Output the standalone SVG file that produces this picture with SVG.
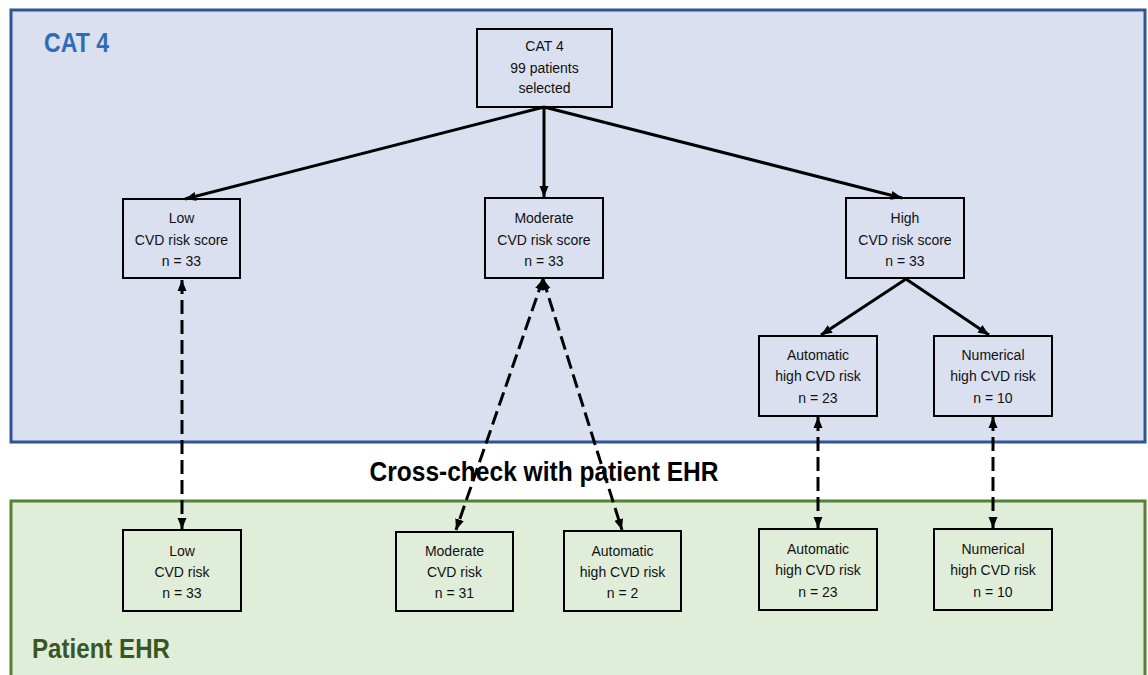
<svg xmlns="http://www.w3.org/2000/svg" width="1148" height="675" viewBox="0 0 1148 675">
<defs>
<marker id="ah" markerUnits="userSpaceOnUse" markerWidth="12" markerHeight="12" viewBox="0 0 12 12" refX="11" refY="6" orient="auto-start-reverse">
<path d="M0,1.5 L11,6 L0,10.5 Z" fill="#000"/>
</marker>
<style>
.box{fill:none;stroke:#000;stroke-width:2}
.t{font-family:"Liberation Sans",Arial,sans-serif;font-size:14px;fill:#111;text-anchor:middle}
.solid{stroke:#000;stroke-width:3;fill:none}
.dash{stroke:#000;stroke-width:3;fill:none;stroke-dasharray:14 6}
.title{font-family:"Liberation Sans",Arial,sans-serif;font-weight:bold;font-size:27px}
</style>
</defs>
<rect width="1148" height="675" fill="#fff"/>
<g id="panel-cat4">
<rect x="11" y="10" width="1134" height="432" fill="#DAE0F0" stroke="#2F5597" stroke-width="3"/>
<text class="title" x="44" y="52" fill="#2E6DB4" textLength="65" lengthAdjust="spacingAndGlyphs">CAT 4</text>
</g>
<g id="panel-ehr">
<rect x="11" y="501" width="1134" height="190" fill="#E0EDD8" stroke="#548235" stroke-width="3"/>
<text class="title" x="32" y="658" fill="#385723" textLength="138" lengthAdjust="spacingAndGlyphs">Patient EHR</text>
</g>
<g id="label-crosscheck">
<text class="title" x="544" y="481" fill="#000" text-anchor="middle" textLength="349" lengthAdjust="spacingAndGlyphs">Cross-check with patient EHR</text>
</g>
<g id="connectors">
<line class="solid" x1="544" y1="107" x2="185" y2="199" marker-end="url(#ah)"/>
<line class="solid" x1="544" y1="107" x2="544" y2="197" marker-end="url(#ah)"/>
<line class="solid" x1="544" y1="107" x2="902" y2="198" marker-end="url(#ah)"/>
<line class="solid" x1="906" y1="279" x2="821" y2="335" marker-end="url(#ah)"/>
<line class="solid" x1="906" y1="279" x2="989" y2="335" marker-end="url(#ah)"/>
<line class="dash" x1="182" y1="280" x2="182" y2="529" marker-start="url(#ah)" marker-end="url(#ah)"/>
<line class="dash" x1="543" y1="279" x2="456" y2="530" marker-start="url(#ah)" marker-end="url(#ah)"/>
<line class="dash" x1="543" y1="279" x2="622" y2="530" marker-start="url(#ah)" marker-end="url(#ah)"/>
<line class="dash" x1="818" y1="417" x2="818" y2="528" marker-start="url(#ah)" marker-end="url(#ah)"/>
<line class="dash" x1="993" y1="417" x2="993" y2="528" marker-start="url(#ah)" marker-end="url(#ah)"/>
</g>
<g id="n-cat4">
<rect class="box" x="477" y="29" width="135" height="78" fill="#DAE0F0"/>
<text class="t" x="544.5" y="51">CAT 4</text>
<text class="t" x="544.5" y="72.5">99 patients</text>
<text class="t" x="544.5" y="93">selected</text>
</g>
<g id="n-low-score">
<rect class="box" x="123" y="199" width="117" height="79"/>
<text class="t" x="181.5" y="223">Low</text>
<text class="t" x="181.5" y="245">CVD risk score</text>
<text class="t" x="181.5" y="266">n = 33</text>
</g>
<g id="n-mod-score">
<rect class="box" x="485" y="198" width="118" height="80"/>
<text class="t" x="544" y="223">Moderate</text>
<text class="t" x="544" y="245">CVD risk score</text>
<text class="t" x="544" y="266">n = 33</text>
</g>
<g id="n-high-score">
<rect class="box" x="846" y="198" width="118" height="80"/>
<text class="t" x="905" y="223">High</text>
<text class="t" x="905" y="245">CVD risk score</text>
<text class="t" x="905" y="266">n = 33</text>
</g>
<g id="n-auto-high">
<rect class="box" x="759" y="336" width="118" height="80"/>
<text class="t" x="818" y="360">Automatic</text>
<text class="t" x="818" y="381">high CVD risk</text>
<text class="t" x="818" y="402.5">n = 23</text>
</g>
<g id="n-num-high">
<rect class="box" x="934" y="336" width="118" height="80"/>
<text class="t" x="993" y="360">Numerical</text>
<text class="t" x="993" y="381">high CVD risk</text>
<text class="t" x="993" y="402.5">n = 10</text>
</g>
<g id="e-low">
<rect class="box" x="123" y="530" width="118" height="81"/>
<text class="t" x="182" y="555.5">Low</text>
<text class="t" x="182" y="576.5">CVD risk</text>
<text class="t" x="182" y="598">n = 33</text>
</g>
<g id="e-mod">
<rect class="box" x="396" y="532" width="117" height="79"/>
<text class="t" x="454.5" y="555.5">Moderate</text>
<text class="t" x="454.5" y="576.5">CVD risk</text>
<text class="t" x="454.5" y="598">n = 31</text>
</g>
<g id="e-auto-2">
<rect class="box" x="564" y="531" width="117" height="80"/>
<text class="t" x="622.5" y="555.5">Automatic</text>
<text class="t" x="622.5" y="576.5">high CVD risk</text>
<text class="t" x="622.5" y="598">n = 2</text>
</g>
<g id="e-auto-23">
<rect class="box" x="759" y="529" width="118" height="81"/>
<text class="t" x="818" y="554">Automatic</text>
<text class="t" x="818" y="575">high CVD risk</text>
<text class="t" x="818" y="596.5">n = 23</text>
</g>
<g id="e-num-10">
<rect class="box" x="934" y="529" width="118" height="81"/>
<text class="t" x="993" y="554">Numerical</text>
<text class="t" x="993" y="575">high CVD risk</text>
<text class="t" x="993" y="596.5">n = 10</text>
</g>
</svg>
